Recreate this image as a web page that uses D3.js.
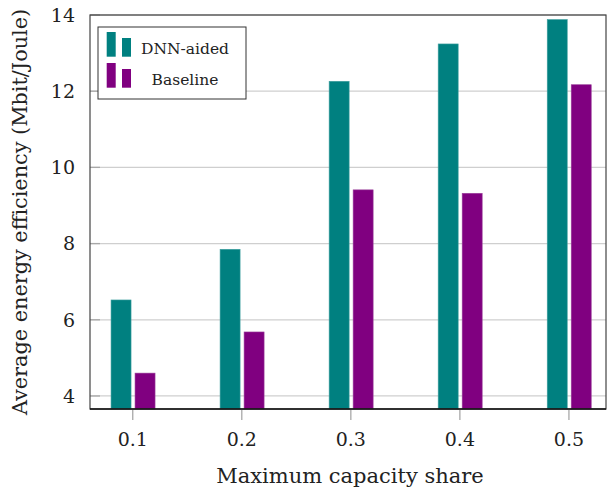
<!DOCTYPE html>
<html>
<head>
<meta charset="utf-8">
<script src="https://cdn.jsdelivr.net/npm/d3@7"></script>
<style>
  body { margin: 0; background: white; }
  text { font-family: "DejaVu Serif", serif; fill: #222; }
</style>
</head>
<body>
<svg id="chart" width="607" height="493"></svg>
<script>
// data
var shares = [0.1, 0.2, 0.3, 0.4, 0.5];
var dnnAided = [6.52, 7.85, 12.26, 13.24, 13.88];
var baseline = [4.60, 5.68, 9.41, 9.32, 12.17];
var yTicks = [4, 6, 8, 10, 12, 14];
var seriesNames = ["DNN-aided", "Baseline"];
var seriesColors = ["#008080", "#800080"];
var seriesEdges = ["#3f9f9f", "#9a3f9a"];

var svg = d3.select('#chart');
var pLeft = 90, pRight = 606, pTop = 15, pBottom = 409;

var x = d3.scaleLinear().domain([0.0608, 0.534]).range([pLeft, pRight]);
var y = d3.scaleLinear().domain([3.658, 14]).range([pBottom, pTop]);

var barW = 20, off = [-11.7, 12.3];

// grid
svg.append('g')
    .selectAll('line')
    .data(yTicks)
    .enter()
    .append('line')
    .attr('x1', pLeft).attr('x2', pRight)
    .attr('y1', d => y(d)).attr('y2', d => y(d))
    .attr('stroke', '#cfcfcf')
    .attr('stroke-width', 1.3);

// y tick marks (inside)
svg.append('g')
    .selectAll('line')
    .data(yTicks)
    .enter()
    .append('line')
    .attr('x1', pLeft).attr('x2', pLeft + 10)
    .attr('y1', d => y(d)).attr('y2', d => y(d))
    .attr('stroke', '#a8a8a8')
    .attr('stroke-width', 1.3);

// bars
var series = [dnnAided, baseline];
series.forEach(function(vals, s) {
    svg.append('g')
        .selectAll('rect')
        .data(vals)
        .enter()
        .append('rect')
        .attr('x', (d, i) => x(shares[i]) + off[s] - barW / 2)
        .attr('width', barW)
        .attr('y', d => y(d))
        .attr('height', d => pBottom - y(d))
        .attr('fill', seriesColors[s])
        .attr('stroke', seriesEdges[s])
        .attr('stroke-width', 0.6);
});

// frame
svg.append('rect')
    .attr('x', pLeft).attr('y', pTop)
    .attr('width', pRight - pLeft).attr('height', pBottom - pTop)
    .attr('fill', 'none')
    .attr('stroke', '#444')
    .attr('stroke-width', 1.2);
svg.append('line')
    .attr('x1', pLeft).attr('x2', pRight)
    .attr('y1', pBottom).attr('y2', pBottom)
    .attr('stroke', '#111')
    .attr('stroke-width', 1.4);

// x ticks
var xAxis = svg.append('g');
xAxis.selectAll('line')
    .data(shares)
    .enter()
    .append('line')
    .attr('x1', d => x(d)).attr('x2', d => x(d))
    .attr('y1', pBottom + 1).attr('y2', pBottom + 11)
    .attr('stroke', '#a8a8a8')
    .attr('stroke-width', 1.3);
xAxis.selectAll('text')
    .data(shares)
    .enter()
    .append('text')
    .attr('x', d => x(d))
    .attr('y', 446)
    .attr('text-anchor', 'middle')
    .attr('font-size', 19)
    .text(d => d3.format('.1f')(d));

// y tick labels
svg.append('g')
    .selectAll('text')
    .data(yTicks)
    .enter()
    .append('text')
    .attr('x', 75)
    .attr('y', d => y(d))
    .attr('dy', '0.36em')
    .attr('text-anchor', 'end')
    .attr('font-size', 19)
    .text(d => d);

// axis titles
svg.append('text')
    .attr('x', (pLeft + pRight) / 2 + 2)
    .attr('y', 483)
    .attr('text-anchor', 'middle')
    .attr('font-size', 21)
    .text('Maximum capacity share');

svg.append('text')
    .attr('transform', 'translate(27,' + ((pTop + pBottom) / 2) + ') rotate(-90)')
    .attr('text-anchor', 'middle')
    .attr('font-size', 20.8)
    .text('Average energy efficiency (Mbit/Joule)');

// legend
var lg = svg.append('g').attr('transform', 'translate(98,27)');
lg.append('rect')
    .attr('width', 148).attr('height', 72)
    .attr('fill', 'white')
    .attr('stroke', '#333')
    .attr('stroke-width', 1);
seriesNames.forEach(function(name, s) {
    var row = lg.append('g').attr('transform', 'translate(0,' + (s * 31) + ')');
    row.append('rect')
        .attr('x', 8.7).attr('y', 5).attr('width', 9).attr('height', 24.7)
        .attr('fill', seriesColors[s]);
    row.append('rect')
        .attr('x', 24).attr('y', 11).attr('width', 9).attr('height', 18.7)
        .attr('fill', seriesColors[s]);
    row.append('text')
        .attr('x', 87)
        .attr('y', 27)
        .attr('text-anchor', 'middle')
        .attr('font-size', 15.5)
        .text(name);
});
</script>
</body>
</html>
